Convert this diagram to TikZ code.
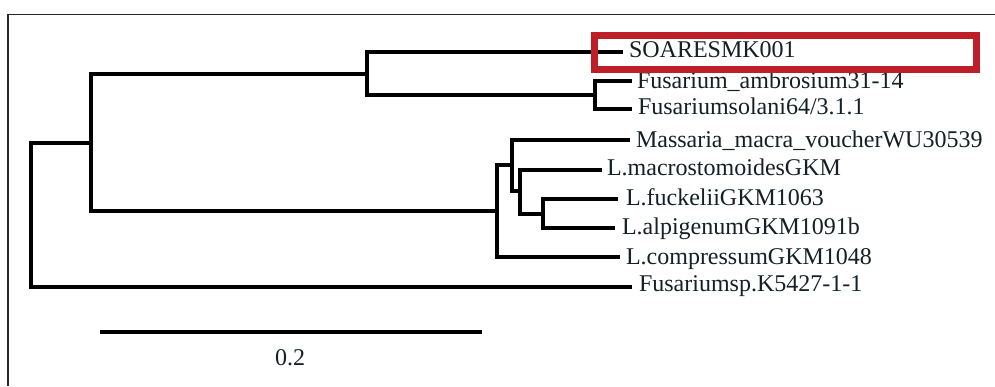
\documentclass[tikz,border=0pt]{standalone}
\usepackage{fontspec}
\setmainfont{Liberation Serif}
\definecolor{boxred}{RGB}{190,30,40}
\definecolor{frameg}{RGB}{40,40,40}
\definecolor{txt}{RGB}{20,32,38}
\begin{document}
\begin{tikzpicture}[x=1pt,y=-1pt,
  branch/.style={line width=3.5pt, black, line join=miter},
  lab/.style={anchor=base west, inner sep=0pt, outer sep=0pt, text=txt,
    font=\fontsize{24}{26}\selectfont},
  framel/.style={line width=1.6pt, frameg}]
\useasboundingbox (0,0) rectangle (995,386);
\fill[white] (0,0) rectangle (995,386);
% frame
\coordinate (fTL) at (8,14.5);
\coordinate (fTR) at (995,14.5);
\coordinate (fBL) at (8,386);
\draw[framel] (fTR) -- (fTL) -- (fBL);
% internal nodes
\coordinate (R) at (31,215);
\coordinate (A) at (91,143);
\coordinate (B) at (367,74);
\coordinate (C) at (595,95);
\coordinate (F) at (497,211);
\coordinate (D) at (512,165);
\coordinate (E) at (520,191);
\coordinate (G) at (543,214);
% tips
\coordinate (tSOA) at (623,52);
\coordinate (tFam) at (632,81);
\coordinate (tFso) at (632,109);
\coordinate (tMas) at (630,140);
\coordinate (tLma) at (602,170);
\coordinate (tLfu) at (618,199);
\coordinate (tLal) at (615,228);
\coordinate (tLco) at (620,257);
\coordinate (tFsp) at (632,287);
% branches
\draw[branch] (R) |- (A);
\draw[branch] (R) |- (tFsp);
\draw[branch] (A) |- (B);
\draw[branch] (A) |- (F);
\draw[branch] (B) |- (tSOA);
\draw[branch] (B) |- (C);
\draw[branch] (C) |- (tFam);
\draw[branch] (C) |- (tFso);
\draw[branch] (F) |- (D);
\draw[branch] (F) |- (tLco);
\draw[branch] (D) |- (tMas);
\draw[branch] (D) |- (E);
\draw[branch] (E) |- (tLma);
\draw[branch] (E) |- (G);
\draw[branch] (G) |- (tLfu);
\draw[branch] (G) |- (tLal);
% labels (positioned at measured baselines)
\node[lab] (nSOA) at (629,57) {SOARESMK001};
\node[lab] (nFam) at (637,88) {Fusarium\_ambrosium31-14};
\node[lab] (nFso) at (638,114) {Fusariumsolani64/3.1.1};
\node[lab] (nMas) at (636,147) {Massaria\_macra\_voucherWU30539};
\node[lab] (nLma) at (607,175) {L.macrostomoidesGKM};
\node[lab] (nLfu) at (626,205) {L.fuckeliiGKM1063};
\node[lab] (nLal) at (622,234) {L.alpigenumGKM1091b};
\node[lab] (nLco) at (626,264) {L.compressumGKM1048};
\node[lab] (nFsp) at (639,291) {Fusariumsp.K5427-1-1};
% highlight box
\node[draw=boxred, line width=7pt, minimum width=382pt, minimum height=34pt,
  inner sep=0pt, outer sep=0pt, anchor=north west] (hl) at (594.5,35.5) {};
% scale bar
\coordinate (s1) at (100,332);
\coordinate (s2) at (482,332);
\draw[branch] (s1) -- (s2);
\node[lab, anchor=base] (sl) at (290,365) {0.2};
\end{tikzpicture}
\end{document}
